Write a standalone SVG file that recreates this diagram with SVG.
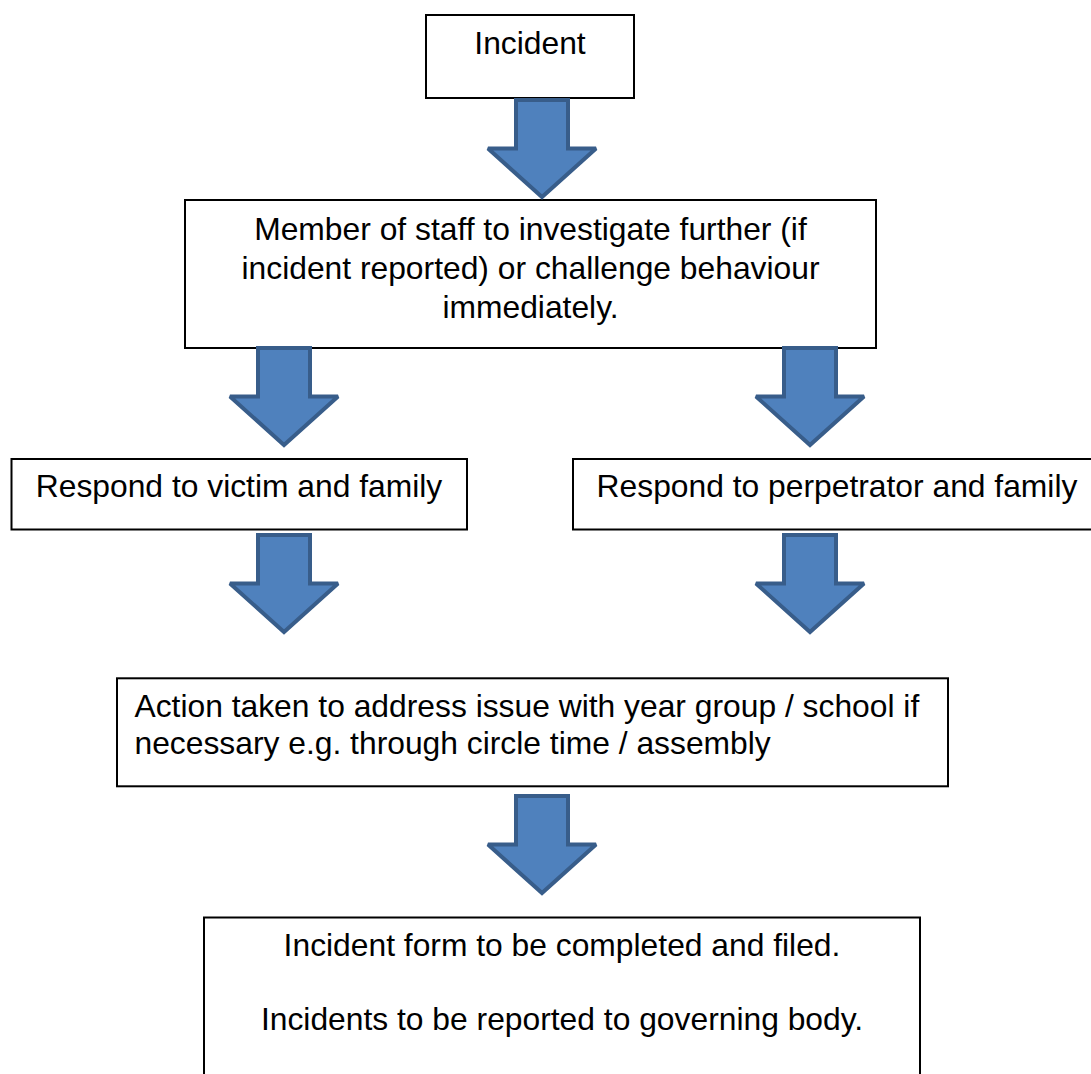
<svg xmlns="http://www.w3.org/2000/svg" xmlns:xlink="http://www.w3.org/1999/xlink" width="1091" height="1074" viewBox="0 0 1091 1074">
<style>
.box{fill:#fff;stroke:#000;stroke-width:2}
.t{font-family:"Liberation Sans",Arial,sans-serif;font-size:31.8px;fill:#000}
.c{text-anchor:middle}
.arrow{fill:#4F81BD;stroke:#385D8A;stroke-width:4;stroke-linejoin:miter;stroke-miterlimit:2.5}
</style>
<defs>
<path id="blockArrow" d="M-26,2 H26 V50.5 H54 L0,99 L-54,50.5 H-26 Z"/>
</defs>
<rect width="1091" height="1074" fill="#fff"/>
<g id="n-incident">
<rect class="box" x="426" y="15" width="208" height="83"/>
<text class="t c" x="530" y="54">Incident</text>
</g>
<g id="n-investigate">
<rect class="box" x="185" y="200" width="691" height="148"/>
<text class="t c" x="530.5" y="240">Member of staff to investigate further (if</text>
<text class="t c" x="530.5" y="279">incident reported) or challenge behaviour</text>
<text class="t c" x="530.5" y="318">immediately.</text>
</g>
<g id="n-victim">
<rect class="box" x="11.5" y="459" width="455.5" height="70.5"/>
<text class="t c" x="239" y="497">Respond to victim and family</text>
</g>
<g id="n-perpetrator">
<rect class="box" x="573" y="459" width="530" height="70.5"/>
<text class="t c" x="837" y="497">Respond to perpetrator and family</text>
</g>
<g id="n-action">
<rect class="box" x="117" y="678.3" width="831" height="108"/>
<text class="t" x="134.5" y="717.3">Action taken to address issue with year group / school if</text>
<text class="t" x="134.5" y="754">necessary e.g. through circle time / assembly</text>
</g>
<g id="n-form">
<rect class="box" x="204" y="917.5" width="716" height="200"/>
<text class="t c" x="562" y="956">Incident form to be completed and filed.</text>
<text class="t c" x="562" y="1029.5">Incidents to be reported to governing body.</text>
</g>
<g id="connectors">
<use xlink:href="#blockArrow" href="#blockArrow" class="arrow" transform="translate(542,98)"/>
<use xlink:href="#blockArrow" href="#blockArrow" class="arrow" transform="translate(284,346)"/>
<use xlink:href="#blockArrow" href="#blockArrow" class="arrow" transform="translate(810,346)"/>
<use xlink:href="#blockArrow" href="#blockArrow" class="arrow" transform="translate(284,533)"/>
<use xlink:href="#blockArrow" href="#blockArrow" class="arrow" transform="translate(810,533)"/>
<use xlink:href="#blockArrow" href="#blockArrow" class="arrow" transform="translate(542,794)"/>
</g>
</svg>
